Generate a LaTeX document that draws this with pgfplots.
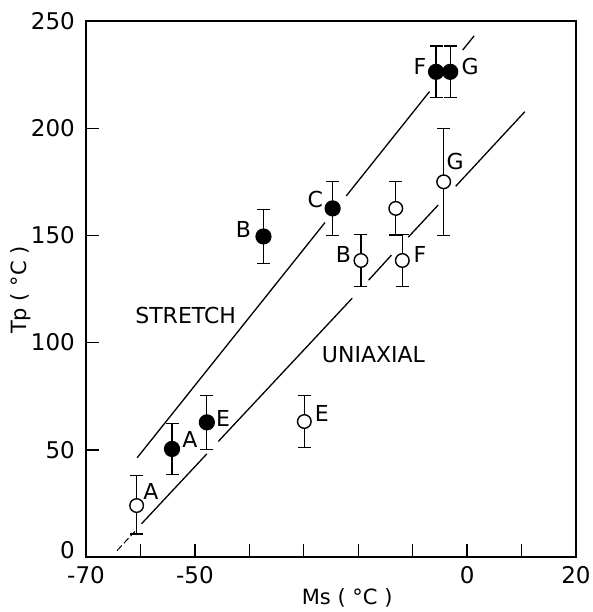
\documentclass[border=0pt]{standalone}
\usepackage{pgfplots}
\usepackage{pgfplotstable}
\pgfplotsset{compat=1.18}
\usepackage{fontspec}
\setmainfont{DejaVu Sans}

% Biaxial stretch (filled): Ms, Tp, error +, error -
\pgfplotstableread{
x y ep em
-54.2 50.4 12.0 12.0
-47.8 62.8 12.5 12.5
-37.4 149.5 12.5 12.5
-24.7 162.6 12.5 12.5
-5.7 226.3 12.0 12.0
-3.1 226.3 12.0 12.0
}\stretchdata

% Uniaxial (open)
\pgfplotstableread{
x y ep em
-60.7 24.0 14.0 13.3
-29.9 63.2 12.2 12.2
-19.5 138.3 12.3 12.3
-13.1 162.6 12.4 12.4
-11.9 138.3 12.3 12.3
-4.3 175.0 25.0 25.0
}\uniaxdata

\newcommand{\lab}{\fontsize{22}{26}\selectfont}
\newcommand{\ticklab}{\fontsize{23}{27}\selectfont}
\newcommand{\axlab}{\fontsize{21}{25}\selectfont}

\begin{document}
\begin{tikzpicture}
\begin{axis}[
  scale only axis, width=490pt, height=536pt,
  xmin=-70, xmax=20, ymin=0, ymax=250,
  clip=false,
  axis line style={line width=1.6pt},
  xtick={-70,-60,...,20},
  xticklabels={-70,,-50,,,,,0,,20},
  ytick={0,50,...,250},
  % the zero sits just above the corner, clear of the -70 below it
  yticklabels={\raisebox{-1pt}[0pt][0pt]{0},50,100,150,200,250},
  tick align=inside, xtick pos=bottom, ytick pos=left,
  major tick length=13pt,
  tick style={line width=1.4pt, black},
  every tick label/.append style={font=\ticklab, inner sep=0pt},
  xticklabel style={yshift=-9pt},
  yticklabel style={xshift=-11pt},
  xlabel={Ms ( °C )},
  ylabel={Tp ( °C )},
  label style={font=\axlab},
  xlabel style={at={(axis description cs:0.533,-0.0765)}, anchor=center},
  ylabel style={at={(axis description cs:-0.133,0.498)}, anchor=center},
]
% fitted trend lines, broken around the data points
\addplot[black, line width=1.3pt, no marks] coordinates {(-60.6,46.3) (-26.1,156.0)};
\addplot[black, line width=1.3pt, no marks] coordinates {(-22.2,168.4) (-6.9,217.1)};
\addplot[black, line width=1.3pt, no marks] coordinates {(-0.8,236.5) (1.3,243.1)};

\addplot[black, line width=1.0pt, no marks, dash pattern=on 7pt off 3pt] coordinates {(-64.3,3.0) (-61.0,12.0)};
\addplot[black, line width=1.3pt, no marks] coordinates {(-59.8,15.5) (-47.8,48.1)};
\addplot[black, line width=1.3pt, no marks] coordinates {(-45.7,53.9) (-21.1,120.7)};
\addplot[black, line width=1.3pt, no marks] coordinates {(-18.1,129.1) (-13.9,140.8)};
\addplot[black, line width=1.3pt, no marks] coordinates {(-10.8,149.2) (-5.3,164.2)};
\addplot[black, line width=1.3pt, no marks] coordinates {(-2.1,172.9) (10.6,207.7)};

\addplot[black, only marks, mark=*, mark size=7.5pt,
  mark options={fill=black, line width=1.2pt},
  error bars/.cd, y dir=both, y explicit,
  error bar style={line width=1.2pt, black},
  error mark options={rotate=90, mark size=6.5pt, line width=1.2pt}]
  table[x=x, y=y, y error plus=ep, y error minus=em] {\stretchdata};

\addplot[black, only marks, mark=*, mark size=6.8pt,
  mark options={fill=white, line width=1.4pt},
  error bars/.cd, y dir=both, y explicit,
  error bar style={line width=1.2pt, black},
  error mark options={rotate=90, mark size=6.5pt, line width=1.2pt}]
  table[x=x, y=y, y error plus=ep, y error minus=em] {\uniaxdata};

% point letters
\node[font=\lab] at (axis cs:-41.1,152.7) {B};
\node[font=\lab] at (axis cs:-50.9,54.6) {A};
\node[font=\lab] at (axis cs:-44.8,64.8) {E};
\node[font=\lab] at (axis cs:-27.9,166.7) {C};
\node[font=\lab] at (axis cs:-8.65,228.9) {F};
\node[font=\lab] at (axis cs:0.54,228.9) {G};
\node[font=\lab] at (axis cs:-58.1,30.5) {A};
\node[font=\lab] at (axis cs:-26.7,67.1) {E};
\node[font=\lab] at (axis cs:-22.7,141.0) {B};
\node[font=\lab] at (axis cs:-8.65,141.0) {F};
\node[font=\lab] at (axis cs:-2.2,184.5) {G};
\node[font=\lab] at (axis cs:-51.7,112.7) {STRETCH};
\node[font=\lab] at (axis cs:-17.2,94.3) {UNIAXIAL};

\path (rel axis cs:-0.1755,-0.1026) rectangle (rel axis cs:1.0347,1.0392);
\end{axis}
\end{tikzpicture}
\end{document}
